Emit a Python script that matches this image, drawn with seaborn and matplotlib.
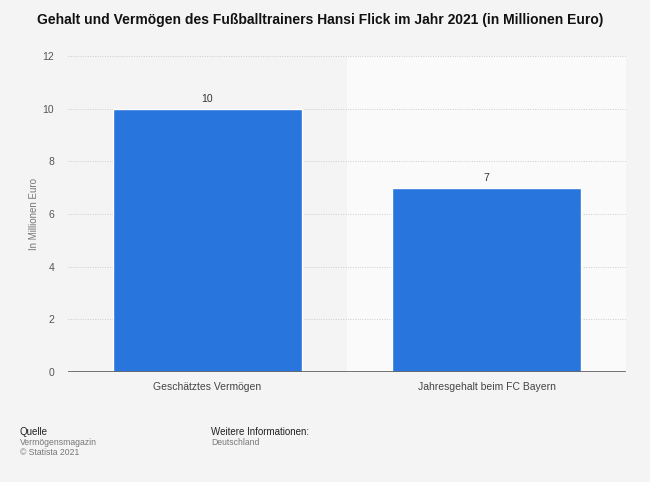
import matplotlib
matplotlib.use("Agg")
import matplotlib.pyplot as plt
import seaborn as sns
import pandas as pd
from matplotlib.patches import Rectangle

categories = ["Geschätztes Vermögen", "Jahresgehalt beim FC Bayern"]
values = [10, 7]
yticks = [0, 2, 4, 6, 8, 10, 12]

title = "Gehalt und Vermögen des Fußballtrainers Hansi Flick im Jahr 2021 (in Millionen Euro)"
ylabel = "In Millionen Euro"

sns.set_theme(style="white")
plt.rcParams['font.family'] = ['Liberation Sans', 'DejaVu Sans']

bg = "#f4f4f4"
fig = plt.figure(figsize=(6.5, 4.82), dpi=100, facecolor=bg)
ax = fig.add_axes([0.1046, 0.228, 0.8585, 0.656])
ax.set_facecolor(bg)

df = pd.DataFrame({"cat": categories, "val": values})
sns.barplot(data=df, x="cat", y="val", ax=ax, color="#2876dd", saturation=1,
            width=0.68, zorder=3)

ax.set_xlim(-0.5, 1.5)
ax.set_ylim(0, 12)
# lighter right half panel
ax.add_patch(Rectangle((0.5, 0), 1.0, 12, facecolor="#fafafa", edgecolor="none", zorder=0))

ax.set_yticks(yticks)
ax.set_yticklabels([str(t) for t in yticks], fontsize=7.5, color="#555555")
for t in yticks[1:]:
    ax.axhline(t, color="#cccccc", linestyle=(0, (1, 1.5)), linewidth=0.7, zorder=1)
ax.axhline(0, color="#666666", linewidth=2, zorder=4)

for s in ax.spines.values():
    s.set_visible(False)
ax.tick_params(axis="both", length=0)
ax.tick_params(axis="y", pad=10)
ax.set_xticks(range(len(categories)))
ax.set_xticklabels(categories, fontsize=7.5, color="#444444")
ax.tick_params(axis="x", pad=7)
ax.set_xlabel("")
ax.set_ylabel(ylabel, fontsize=7, color="#777777")
ax.yaxis.set_label_coords(-(68 - 39) / 558, 0.5)

for i, v in enumerate(values):
    ax.text(i, v + 0.18, str(v), ha="center", va="bottom", fontsize=7.5, color="#333333")

fig.text(0.493, 0.958, title, ha="center", va="center", fontsize=10,
         fontweight="bold", color="#111111")

fig.text(20/650, 1 - 432/482, "Quelle", fontsize=7, color="#222222", va="center")
fig.text(20/650, 1 - 442.5/482, "Vermögensmagazin", fontsize=6.2, color="#777777", va="center")
fig.text(20/650, 1 - 452.5/482, "© Statista 2021", fontsize=6.2, color="#777777", va="center")
fig.text(211/650, 1 - 432/482, "Weitere Informationen:", fontsize=7, color="#222222", va="center")
fig.text(211/650, 1 - 442.5/482, "Deutschland", fontsize=6.2, color="#777777", va="center")

fig.savefig("out.png", dpi=100, facecolor=bg)
